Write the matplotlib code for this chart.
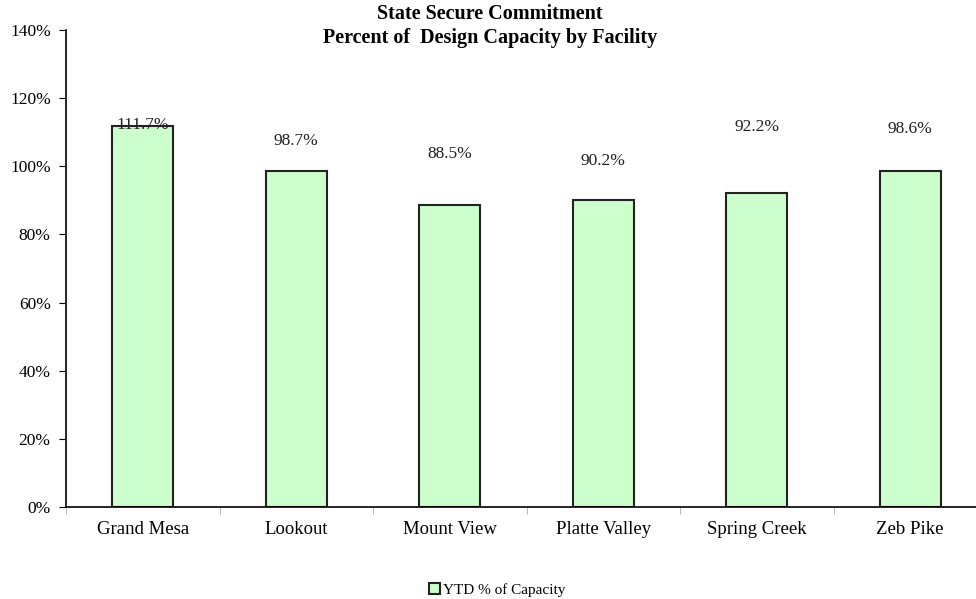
import matplotlib
matplotlib.use("Agg")
import matplotlib.pyplot as plt
import numpy as np
from matplotlib.ticker import FuncFormatter

facilities = ["Grand Mesa", "Lookout", "Mount View", "Platte Valley", "Spring Creek", "Zeb Pike"]
pct_capacity = [111.7, 98.7, 88.5, 90.2, 92.2, 98.6]
# where the value labels sit (data units), as in the original chart
label_y = [112.1, 107.4, 103.6, 101.6, 111.5, 110.9]
yticks = [0, 20, 40, 60, 80, 100, 120, 140]

plt.rcParams['font.family'] = ['Liberation Serif', 'DejaVu Serif']

fig = plt.figure(figsize=(9.76, 5.99), dpi=100)
# axes runs past the right edge of the figure like the original
ax = fig.add_axes([66 / 976, 1 - 507 / 599, 921 / 976, 477 / 599])

x = np.arange(len(facilities))
bars = ax.bar(x, pct_capacity, width=0.40, color="#CCFFCC", edgecolor="#222222",
              linewidth=1.5, label="YTD % of Capacity", zorder=2)

for xi, v, ly in zip(x, pct_capacity, label_y):
    ax.text(xi, ly, f"{v:.1f}%", ha="center", va="center", fontsize=12.5, color="#222222", zorder=3)

ax.set_xlim(-0.5, len(facilities) - 0.5)
ax.set_ylim(0, 140)
ax.set_yticks(yticks)
ax.yaxis.set_major_formatter(FuncFormatter(lambda v, p: f"{v:.0f}%"))
ax.set_xticks(x)
ax.set_xticklabels(facilities, fontsize=13.5)
ax.tick_params(axis="x", length=0, pad=10)
ax.set_xticks(np.arange(len(facilities) + 1) - 0.5, minor=True)
ax.tick_params(axis="x", which="minor", length=5, color="#aaaaaa")
ax.tick_params(axis="y", length=5, labelsize=12.5, pad=6)

for s in ["top", "right"]:
    ax.spines[s].set_visible(False)
ax.spines["left"].set_linewidth(1.2)
ax.spines["bottom"].set_linewidth(1.2)

fig.text(490 / 976, 1 - 14 / 599, "State Secure Commitment", ha="center", va="center",
         fontsize=14.5, fontweight="bold")
fig.text(490 / 976, 1 - 38 / 599, "Percent of  Design Capacity by Facility", ha="center", va="center",
         fontsize=14.5, fontweight="bold")

leg = fig.legend(handles=[bars], labels=["YTD % of Capacity"], loc="center",
                 bbox_to_anchor=(497 / 976, 1 - 590 / 599), frameon=False, fontsize=11,
                 handlelength=0.7, handleheight=0.7, handletextpad=0.2)

fig.savefig("out.png", dpi=100)
